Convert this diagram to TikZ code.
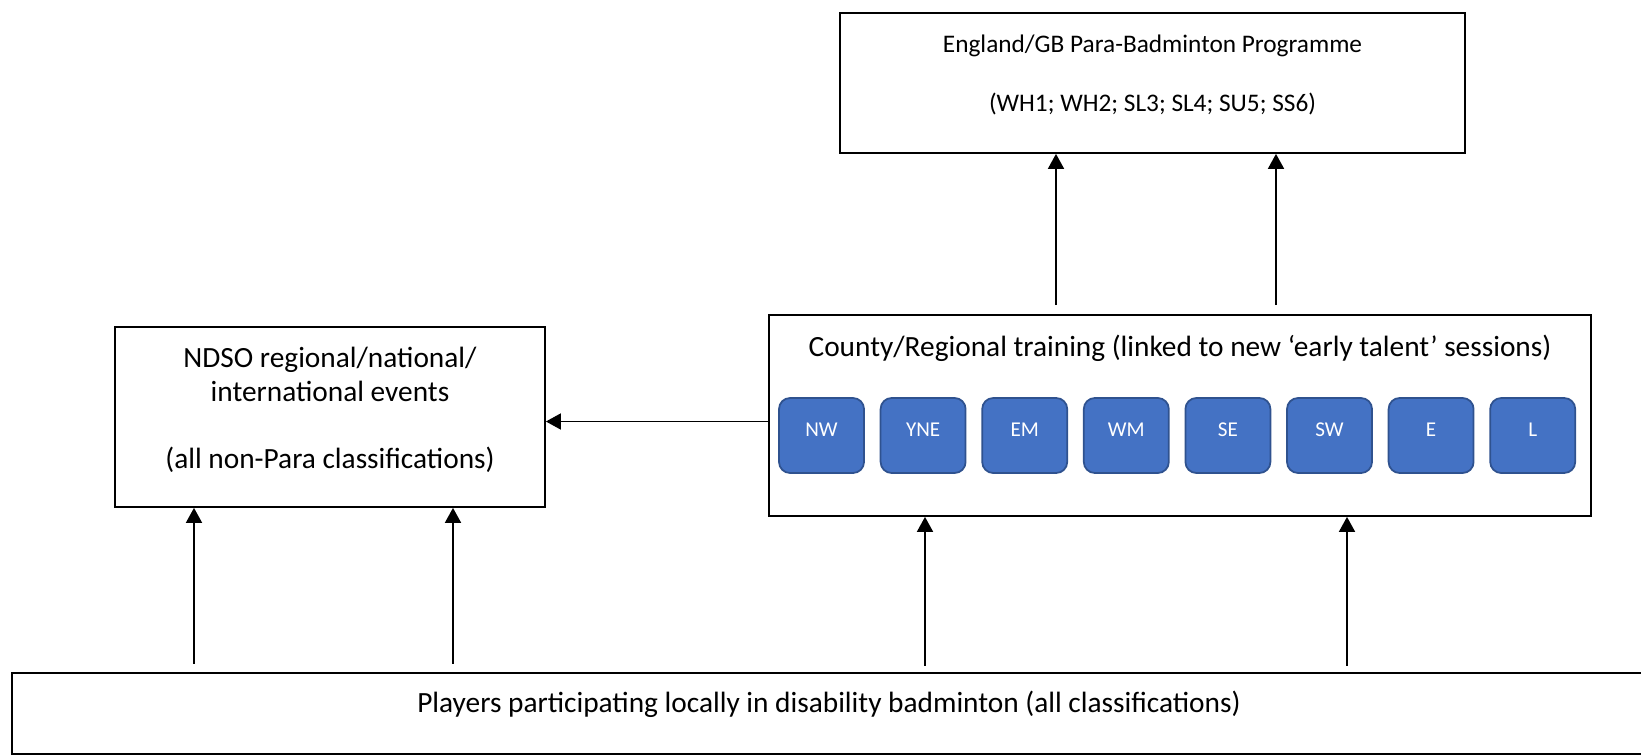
\documentclass[tikz,border=0pt]{standalone}
\usepackage{fontspec}
\setmainfont{Carlito}
\usetikzlibrary{arrows.meta,positioning}
\definecolor{RegionFill}{HTML}{4472C4}
\definecolor{RegionEdge}{HTML}{2F528F}

\begin{document}
\begin{tikzpicture}[
    tier/.style={draw=black,line width=1pt,inner sep=0pt},
    caption/.style={inner sep=0pt,font=\fontsize{16.7}{20}\selectfont},
    topcap/.style={inner sep=0pt,font=\fontsize{14.4}{17}\selectfont},
    region/.style={draw=RegionEdge,line width=1pt,fill=RegionFill,rounded corners=0.22cm,
      minimum width=1.7cm,minimum height=1.5cm,inner sep=0pt,text=white,
      font=\fontsize{12}{14}\selectfont,text depth=0.24cm},
    uparrow/.style={-{Triangle[width=0.32cm,length=0.3cm]},line width=1pt}
  ]
    \clip (0,0) rectangle (32.82,-15.1);
    % top tier
    \node[tier,minimum width=12.5cm,minimum height=2.8cm] (prog) at (23.05,-1.66) {};
    \node[topcap] (progname) at (23.05,-0.92) {England/GB Para-Badminton Programme};
    \node[topcap] (progclass) at (23.05,-2.08) {(WH1; WH2; SL3; SL4; SU5; SS6)};
    % middle tier
    \node[tier,minimum width=16.44cm,minimum height=4.02cm] (county) at (23.6,-8.31) {};
    \node[caption] (countyname) at (23.6,-6.96) {County/Regional training (linked to new ‘early talent’ sessions)};
    \foreach \reg [count=\i from 0] in {NW,YNE,EM,WM,SE,SW,E,L}
      \node[region] (reg\i) at (16.43+2.032*\i,-8.71) {\reg};
    \node[tier,minimum width=8.6cm,minimum height=3.6cm] (ndso) at (6.6,-8.34) {};
    \node[caption] (ndsoname) at (6.6,-7.2) {NDSO regional/national/};
    \node[caption] (ndsoevents) at (6.6,-7.82) {international events};
    \node[caption] (ndsoclass) at (6.6,-9.2) {(all non-Para classifications)};
    % bottom tier
    \node[tier,line width=1.3pt,minimum width=34cm,minimum height=1.62cm] (players) at (17.24,-14.27) {};
    \node[caption] (playersname) at (16.58,-14.08) {Players participating locally in disability badminton (all classifications)};
    % arrows
    \foreach \x in {21.12,25.52}
      \draw[uparrow,shorten <=0.18cm] (\x,0 |- county.north) -- (\x,0 |- prog.south);
    \foreach \x in {3.88,9.06}
      \draw[uparrow,shorten <=0.16cm] (\x,0 |- players.north) -- (\x,0 |- ndso.south);
    \foreach \x in {18.5,26.94}
      \draw[uparrow,shorten <=0.12cm] (\x,0 |- players.north) -- (\x,0 |- county.south);
    \draw[uparrow] ([yshift=-0.12cm]county.west) -- ([yshift=-0.12cm]county.west -| ndso.east);
  \end{tikzpicture}
\end{document}
